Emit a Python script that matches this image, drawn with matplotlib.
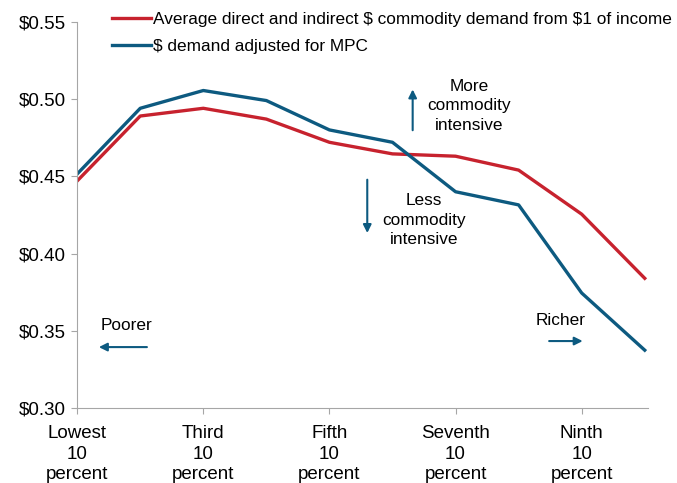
import matplotlib.pyplot as plt
import numpy as np

plt.rcParams['font.family'] = ['Liberation Sans', 'DejaVu Sans']

# Deciles of income (1 = lowest, 10 = highest)
deciles = np.arange(1, 11)
avg_demand = [0.447, 0.489, 0.494, 0.487, 0.472, 0.4645, 0.463, 0.454, 0.4255, 0.384]
mpc_demand = [0.4515, 0.494, 0.5055, 0.499, 0.480, 0.472, 0.440, 0.4315, 0.3745, 0.3375]
tick_pos = [1, 3, 5, 7, 9]
tick_labels = ["Lowest\n10\npercent", "Third\n10\npercent", "Fifth\n10\npercent",
               "Seventh\n10\npercent", "Ninth\n10\npercent"]

red = '#C7222E'
blue = '#0D5A80'
grey = '#A6A6A6'

fig = plt.figure(figsize=(6.77, 4.83), dpi=100)
ax = fig.add_axes([0.114, 0.155, 0.843, 0.80])

ax.plot(deciles, avg_demand, color=red, lw=2.4,
        label="Average direct and indirect \\$ commodity demand from \\$1 of income")
ax.plot(deciles, mpc_demand, color=blue, lw=2.4, label="\\$ demand adjusted for MPC")

ax.set_xlim(1, 10.05)
ax.set_ylim(0.30, 0.55)
ax.set_yticks(np.arange(0.30, 0.551, 0.05))
ax.set_yticklabels([f"\\${v:.2f}" for v in np.arange(0.30, 0.551, 0.05)], fontsize=13.5)
ax.set_xticks(tick_pos)
ax.set_xticklabels(tick_labels, fontsize=13.5, linespacing=1.25)

for s in ['top', 'right']:
    ax.spines[s].set_visible(False)
for s in ['left', 'bottom']:
    ax.spines[s].set_color(grey)
ax.tick_params(axis='both', color=grey, length=4, pad=4)
ax.tick_params(axis='x', pad=8.5)

leg = ax.legend(loc='upper left', bbox_to_anchor=(112 / 677, 1 - 12 / 483),
                bbox_transform=fig.transFigure, frameon=False, borderpad=0,
                borderaxespad=0, fontsize=12.4, handlelength=2.25,
                handletextpad=0.15, labelspacing=0.68)

arrow = dict(arrowstyle='-|>', color=blue, lw=1.5, mutation_scale=12)
note = dict(ha='center', va='center', fontsize=12.4, linespacing=1.38)

ax.text(7.22, 0.4955, "More\ncommodity\nintensive", **note)
ax.annotate("", xy=(6.32, 0.508), xytext=(6.32, 0.478), arrowprops=arrow)

ax.text(6.5, 0.4215, "Less\ncommodity\nintensive", **note)
ax.annotate("", xy=(5.6, 0.4115), xytext=(5.6, 0.4496), arrowprops=arrow)

ax.text(1.78, 0.3537, "Poorer", **note)
ax.annotate("", xy=(1.3, 0.3395), xytext=(2.15, 0.3395), arrowprops=arrow)

ax.text(8.67, 0.3565, "Richer", **note)
ax.annotate("", xy=(9.06, 0.3434), xytext=(8.44, 0.3434), arrowprops=arrow)

fig.savefig('out.png', dpi=100)
